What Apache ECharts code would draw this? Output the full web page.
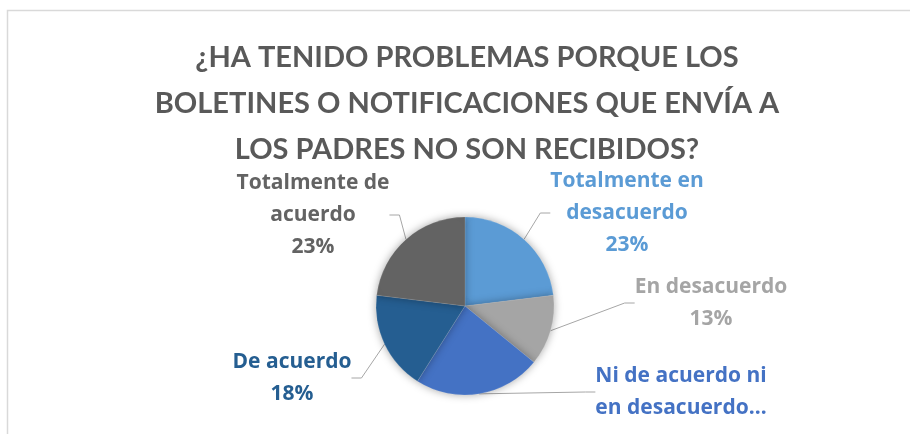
<!DOCTYPE html>
<html>
<head>
<meta charset="utf-8">
<script src="https://cdn.jsdelivr.net/npm/echarts@6/dist/echarts.min.js"></script>
<style>
  html, body { margin: 0; padding: 0; background: #fff; }
  #chart { width: 910px; height: 434px; }
</style>
</head>
<body>
<div id="chart"></div>
<script>
// Respuestas (conteos estimados a partir de los porcentajes del gráfico)
const categories = [
	'Totalmente en desacuerdo',
	'En desacuerdo',
	'Ni de acuerdo ni en desacuerdo',
	'De acuerdo',
	'Totalmente de acuerdo'
];
const values = [9, 5, 9, 7, 9];
// Texto de etiqueta tal como aparece (la de "Ni de acuerdo..." sale cortada)
const labelTexts = [
	'Totalmente en\ndesacuerdo',
	'En desacuerdo',
	'Ni de acuerdo ni\nen desacuerdo…',
	'De acuerdo',
	'Totalmente de\nacuerdo'
];
const showPercent = [true, true, false, true, true];
const colors = ['#5B9BD5', '#A5A5A5', '#4472C4', '#255E91', '#636363'];

const titleText = '¿HA TENIDO PROBLEMAS PORQUE LOS\nBOLETINES O NOTIFICACIONES QUE ENVÍA A\nLOS PADRES NO SON RECIBIDOS?';

// colocación de etiquetas (centro del bloque de texto)
const labelSpots = [
	{ x: 627, y: 213 },
	{ x: 711, y: 303 },
	{ x: 681, y: 392 },
	{ x: 292, y: 378 },
	{ x: 313, y: 215 }
];

const total = values.reduce((a, b) => a + b, 0);

const chart = echarts.init(document.getElementById('chart'));

chart.setOption({
	animation: false,
	graphic: [{
		type: 'rect',
		shape: { x: 7.5, y: 10.5, width: 1000, height: 1000 },
		style: { fill: 'none', stroke: '#D9D9D9', lineWidth: 1.5 },
		silent: true
	}],
	title: {
		text: titleText,
		left: 467,
		top: 35,
		padding: 0,
		textAlign: 'center',
		textStyle: {
			fontFamily: 'Lato',
			fontWeight: 'bold',
			fontSize: 29,
			lineHeight: 46,
			color: '#595959'
		}
	},
	series: [{
		type: 'pie',
		center: [465, 306],
		radius: 89,
		startAngle: 90,
		clockwise: true,
		data: categories.map((name, i) => ({
			name,
			value: values[i],
			itemStyle: { color: colors[i] },
			label: { color: colors[i] }
		})),
		itemStyle: {
			borderColor: 'rgba(255,255,255,0.25)',
			borderWidth: 0.5,
			shadowBlur: 8,
			shadowColor: 'rgba(0,0,0,0.35)'
		},
		label: {
			show: true,
			fontFamily: 'Open Sans',
			fontWeight: 'bold',
			fontSize: 21,
			lineHeight: 32,
			align: 'center',
			formatter: (p) => {
				const i = p.dataIndex;
				const pct = Math.round(values[i] / total * 100) + '%';
				return showPercent[i] ? labelTexts[i] + '\n' + pct : labelTexts[i];
			}
		},
		labelLine: {
			show: true,
			length: 15,
			length2: 10,
			lineStyle: { color: '#A6A6A6', width: 1 }
		},
		labelLayout: (params) => {
			const s = labelSpots[params.dataIndex];
			return {
				x: s.x,
				y: s.y,
				align: 'center',
				verticalAlign: 'middle',
				hideOverlap: false,
				moveOverlap: false
			};
		}
	}]
});
</script>
</body>
</html>
